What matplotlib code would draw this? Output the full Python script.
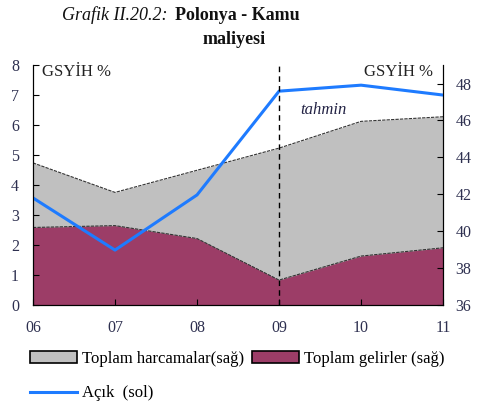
import matplotlib
matplotlib.use("Agg")
import matplotlib.pyplot as plt
from matplotlib.patches import Patch
from matplotlib.lines import Line2D
import numpy as np

plt.rcParams['font.family'] = ['Liberation Serif', 'DejaVu Serif']

years = ['06', '07', '08', '09', '10', '11']
harcamalar = [43.7, 42.1, 43.3, 44.5, 45.95, 46.2]   # right axis
gelirler = [40.2, 40.3, 39.6, 37.35, 38.65, 39.1]    # right axis
acik = [3.57, 1.83, 3.67, 7.13, 7.33, 7.0]           # left axis

grey = '#C0C0C0'
plum = '#9C3D67'
blue = '#1E7BFF'
tick_col = '#2E3050'

x = np.arange(len(years))

fig = plt.figure(figsize=(4.78, 4.08), dpi=100)
ax = fig.add_axes([0.069, 0.2525, 0.858, 0.588])
ax2 = ax.twinx()

# areas on the right axis
ax2.fill_between(x, 36, harcamalar, color=grey, lw=0)
ax2.plot(x, harcamalar, color='#333333', lw=0.8, ls=(0, (3, 1)))
ax2.fill_between(x, 36, gelirler, color=plum, lw=0)
ax2.plot(x, gelirler, color='#333333', lw=0.8, ls=(0, (3, 1)))
ax2.set_ylim(36, 49)
ax2.set_yticks(range(36, 49, 2))

# deficit line on the left axis, drawn above the areas
ax.set_zorder(ax2.get_zorder() + 1)
ax.patch.set_visible(False)
ax.plot(x, acik, color=blue, lw=2.2)
ax.set_ylim(0, 8)
ax.set_yticks(range(0, 9))
ax.set_xlim(0, len(years) - 1)
ax.set_xticks(x)
ax.set_xticklabels(years)

ax.axvline(3, color='black', lw=1.0, ls=(0, (4, 3)))
ax.text(3.26, 6.5, 'tahmin', style='italic', fontsize=12, va='center',
        color='#222244')
ax.text(0.11, 8.05, 'GSYİH %', fontsize=12, va='top', color='#222222')
ax2.text(4.03, 49.05, 'GSYİH %', fontsize=12, va='top', color='#222222')

for a in (ax, ax2):
    a.spines['top'].set_visible(False)
    a.tick_params(direction='in', length=4, width=0.8, labelsize=11.5,
                  labelcolor=tick_col)
ax.tick_params(axis='x', pad=11)
ax.tick_params(axis='y', pad=10)
ax2.tick_params(axis='y', pad=9)

fig.text(0.13, 0.963, 'Grafik II.20.2:', style='italic', fontsize=13,
         ha='left', va='center', color='#111111')
fig.text(0.366, 0.963, 'Polonya - Kamu', weight='bold', fontsize=13,
         ha='left', va='center', color='#111111')
fig.text(0.49, 0.902, 'maliyesi', weight='bold', fontsize=13,
         ha='center', va='center', color='#111111')

handles = [Patch(facecolor=grey, edgecolor='black', lw=1.2),
           Line2D([], [], color=blue, lw=2.2),
           Patch(facecolor=plum, edgecolor='black', lw=1.2)]
labels = ['Toplam harcamalar(sağ)', 'Açık  (sol)', 'Toplam gelirler (sağ)']
fig.legend(handles, labels, ncol=2, loc='upper left',
           bbox_to_anchor=(0.045, 0.16), frameon=False, fontsize=12,
           handlelength=2.8, handleheight=0.7, handletextpad=0.3,
           columnspacing=0.5, labelspacing=1.1, borderpad=0)

fig.savefig('out.png', dpi=100)
